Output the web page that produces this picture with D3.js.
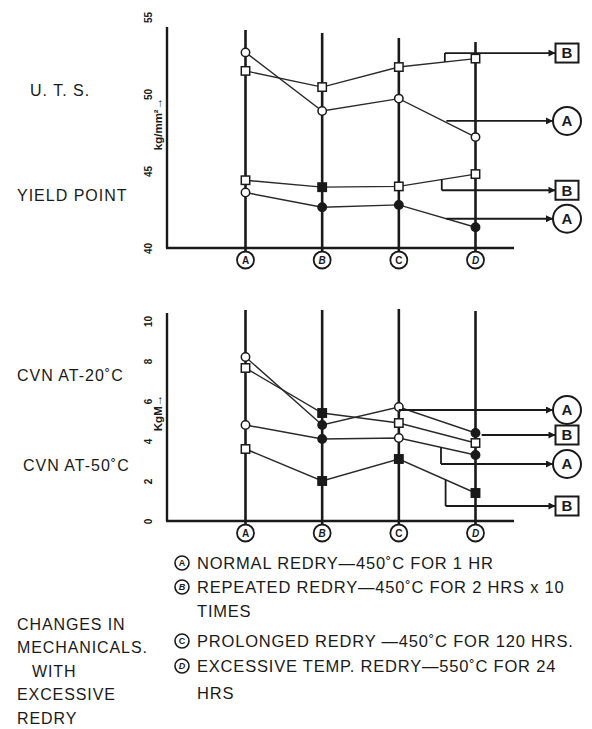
<!DOCTYPE html>
<html>
<head>
<meta charset="utf-8">
<script src="https://cdn.jsdelivr.net/npm/d3@7"></script>
<style>
  body { margin: 0; background: #fff; }
  svg text { font-family: "Liberation Sans", Arial, sans-serif; fill: #1a1a1a; }
</style>
</head>
<body>
<svg id="chart" width="592" height="729"></svg>
<script>
// categories along the x axis (A..D redry conditions)
const categories = ["A", "B", "C", "D"];

// top panel, kg/mm2
const utsA = [52.7, 48.9, 49.7, 47.2];
const utsB = [51.5, 50.45, 51.75, 52.3];
const yieldB = [44.4, 43.95, 44.0, 44.8];
const yieldA = [43.6, 42.65, 42.8, 41.35];
const topTicks = [40, 45, 50, 55];

// bottom panel, kgM
const cvn20A = [8.2, 4.8, 5.7, 4.4];
const cvn20B = [7.65, 5.4, 4.9, 3.9];
const cvn50A = [4.8, 4.1, 4.15, 3.3];
const cvn50B = [3.6, 2.0, 3.1, 1.4];
const bottomTicks = [0, 2, 4, 6, 8, 10];

const legendItems = [
  { key: "A", lines: ["NORMAL REDRY\u2014450\u02DAC FOR 1 HR"] },
  { key: "B", lines: ["REPEATED REDRY\u2014450\u02DAC FOR 2 HRS x 10", "TIMES"] },
  { key: "C", lines: ["PROLONGED REDRY \u2014450\u02DAC FOR 120 HRS."] },
  { key: "D", lines: ["EXCESSIVE TEMP. REDRY\u2014550\u02DAC FOR 24", "HRS"] }
];
const caption = ["CHANGES IN", "MECHANICALS.", "WITH", "EXCESSIVE", "REDRY"];

const svg = d3.select("#chart");
svg.append("rect").attr("width", 592).attr("height", 729).attr("fill", "#fff");

const ink = "#1a1a1a";

svg.append("defs").append("marker")
  .attr("id", "head")
  .attr("viewBox", "0 0 10 10")
  .attr("refX", 10).attr("refY", 5)
  .attr("markerWidth", 9).attr("markerHeight", 7)
  .attr("markerUnits", "userSpaceOnUse")
  .attr("orient", "auto")
  .append("path").attr("d", "M0,0L10,5L0,10Z").attr("fill", ink);

const x = d3.scalePoint().domain(categories).range([245.5, 475.5]);
// fractional category index -> px, used for the arrow brackets
const xi = d3.scaleLinear().domain([0, 3]).range([245.5, 475.5]);

function interp(values, at) {
  const i = Math.min(Math.floor(at), values.length - 2);
  const t = at - i;
  return values[i] + (values[i + 1] - values[i]) * t;
}

function panel(cfg) {
  const { y, axisTop, lineTops, series, ticks, unitLabel, unitY, labelY, arrows, solid } = cfg;
  const g = svg.append("g");
  const base = y.range()[0];

  // y axis line
  g.append("line")
    .attr("x1", 167).attr("x2", 167)
    .attr("y1", axisTop).attr("y2", base)
    .attr("stroke", ink).attr("stroke-width", 2.4);
  // x axis line
  g.append("line")
    .attr("x1", 166).attr("x2", 514)
    .attr("y1", base).attr("y2", base)
    .attr("stroke", ink).attr("stroke-width", 2.4);

  // rotated tick labels
  const axis = g.append("g")
    .attr("transform", "translate(148,0)")
    .call(d3.axisLeft(y).tickValues(ticks).tickSize(0).tickPadding(0));
  axis.select(".domain").remove();
  axis.selectAll("text")
    .attr("x", 0).attr("dy", "0.35em")
    .attr("text-anchor", "middle")
    .attr("transform", "rotate(-90)")
    .style("font-size", "10px").style("font-weight", "bold")
    .style("font-family", "'Liberation Sans', Arial, sans-serif")
    .attr("fill", ink);

  // unit label with arrow
  g.append("text")
    .attr("transform", `translate(158,${unitY}) rotate(-90)`)
    .attr("text-anchor", "middle").attr("dy", "0.35em")
    .style("font-size", "11.5px").style("font-weight", "bold")
    .text(unitLabel);

  // vertical lines at each condition
  g.selectAll(".cat")
    .data(categories)
    .enter().append("line")
    .attr("x1", (d) => x(d)).attr("x2", (d) => x(d))
    .attr("y1", (d, i) => lineTops[i]).attr("y2", base + 4)
    .attr("stroke", ink).attr("stroke-width", 2.6);

  // circled condition letters
  const lab = g.selectAll(".lab")
    .data(categories)
    .enter().append("g")
    .attr("transform", (d) => `translate(${x(d)},${labelY})`);
  lab.append("circle").attr("r", 8.5).attr("fill", "#fff").attr("stroke", ink).attr("stroke-width", 1.8);
  lab.append("text")
    .attr("text-anchor", "middle").attr("dy", "0.36em")
    .style("font-size", "10px").style("font-weight", "bold")
    .style("font-style", (d) => (d === "B" || d === "D" ? "italic" : "normal"))
    .text((d) => d);

  const line = d3.line().x((d, i) => x(categories[i])).y((d) => y(d));

  series.forEach((s) => {
    g.append("path")
      .datum(s.values)
      .attr("d", line)
      .attr("fill", "none")
      .attr("stroke", "#2a2a2a")
      .attr("stroke-width", 1.4);
  });

  series.forEach((s) => {
    const pts = g.selectAll(null)
      .data(s.values)
      .enter();
    const fill = (d, i) => ((solid[s.name] || []).includes(i) ? ink : "#fff");
    if (s.shape === "circle") {
      pts.append("circle")
        .attr("cx", (d, i) => x(categories[i]))
        .attr("cy", (d) => y(d))
        .attr("r", 4.2)
        .attr("fill", fill)
        .attr("stroke", ink).attr("stroke-width", 1.5);
    } else {
      pts.append("rect")
        .attr("x", (d, i) => x(categories[i]) - 4.2)
        .attr("y", (d) => y(d) - 4.2)
        .attr("width", 8.4).attr("height", 8.4)
        .attr("fill", fill)
        .attr("stroke", ink).attr("stroke-width", 1.5);
    }
  });

  // arrows out to the A / B tags
  arrows.forEach((a) => {
    const x0 = xi(a.at);
    const onLine = a.series ? interp(a.series, Math.min(a.at, 3)) : null;
    const level = a.level != null ? a.level : onLine;
    const yl = y(level);
    if (a.series && a.level != null) {
      g.append("line")
        .attr("x1", x0).attr("x2", x0)
        .attr("y1", y(onLine)).attr("y2", yl)
        .attr("stroke", ink).attr("stroke-width", 1.8);
    }
    const tagX = 567;
    const edge = a.shape === "circle" ? tagX - 14 : tagX - 11.5;
    g.append("line")
      .attr("x1", x0).attr("x2", edge)
      .attr("y1", yl).attr("y2", yl)
      .attr("stroke", ink).attr("stroke-width", 1.8)
      .attr("marker-end", "url(#head)");
    if (a.shape === "circle") {
      g.append("circle")
        .attr("cx", tagX).attr("cy", yl).attr("r", 14)
        .attr("fill", "#fff").attr("stroke", ink).attr("stroke-width", 2);
    } else {
      g.append("rect")
        .attr("x", tagX - 11.5).attr("y", yl - 9.5)
        .attr("width", 23).attr("height", 19)
        .attr("fill", "#fff").attr("stroke", ink).attr("stroke-width", 2);
    }
    g.append("text")
      .attr("x", tagX).attr("y", yl)
      .attr("text-anchor", "middle").attr("dy", "0.36em")
      .style("font-size", "15px").style("font-weight", "bold")
      .text(a.label);
  });
}

const yTop = d3.scaleLinear().domain([40, 55]).range([248, 17]);
panel({
  y: yTop,
  axisTop: 27,
  lineTops: [30, 33, 38, 42],
  ticks: topTicks,
  unitLabel: "kg/mm\u00B2\u2192",
  unitY: 124,
  labelY: 260,
  series: [
    { name: "utsA", values: utsA, shape: "circle" },
    { name: "utsB", values: utsB, shape: "square" },
    { name: "yieldB", values: yieldB, shape: "square" },
    { name: "yieldA", values: yieldA, shape: "circle" }
  ],
  solid: { yieldA: [1, 2, 3], yieldB: [1] },
  arrows: [
    { label: "B", shape: "box", at: 2.6, series: utsB, level: 52.66 },
    { label: "A", shape: "circle", at: 2.62, series: null, level: 48.25 },
    { label: "B", shape: "box", at: 2.56, series: yieldB, level: 43.75 },
    { label: "A", shape: "circle", at: 2.62, series: null, level: 41.9 }
  ]
});

const yBot = d3.scaleLinear().domain([0, 10]).range([521, 321]);
panel({
  y: yBot,
  axisTop: 313,
  lineTops: [310, 310, 309, 311],
  ticks: bottomTicks,
  unitLabel: "KgM\u2192",
  unitY: 413,
  labelY: 533,
  series: [
    { name: "cvn20A", values: cvn20A, shape: "circle" },
    { name: "cvn20B", values: cvn20B, shape: "square" },
    { name: "cvn50A", values: cvn50A, shape: "circle" },
    { name: "cvn50B", values: cvn50B, shape: "square" }
  ],
  solid: { cvn20A: [1, 3], cvn20B: [1], cvn50A: [1, 3], cvn50B: [1, 2, 3] },
  arrows: [
    { label: "A", shape: "circle", at: 2.0, series: null, level: 5.55 },
    { label: "B", shape: "box", at: 3.08, series: null, level: 4.3 },
    { label: "A", shape: "circle", at: 2.55, series: cvn50A, level: 2.85 },
    { label: "B", shape: "box", at: 2.61, series: cvn50B, level: 0.75 }
  ]
});

// side labels
const side = [
  { text: "U. T. S.", x: 30, y: 90 },
  { text: "YIELD POINT", x: 17, y: 195 },
  { text: "CVN AT-20\u02DAC", x: 17, y: 375 },
  { text: "CVN AT-50\u02DAC", x: 23, y: 465 }
];
svg.selectAll(".side")
  .data(side)
  .enter().append("text")
  .attr("x", (d) => d.x).attr("y", (d) => d.y)
  .attr("dy", "0.36em")
  .style("font-size", "16px").style("letter-spacing", "1px")
  .text((d) => d.text);

// caption block
svg.selectAll(".cap")
  .data(caption)
  .enter().append("text")
  .attr("x", (d) => (d === "WITH" ? 32 : 17))
  .attr("y", (d, i) => 624 + i * 23.5)
  .attr("dy", "0.36em")
  .style("font-size", "16px").style("letter-spacing", "0.9px")
  .text((d) => d);

// legend
const rowY = [563, 587, 641, 666];
const legend = svg.append("g");
legendItems.forEach((item, k) => {
  const yy = rowY[k];
  legend.append("circle")
    .attr("cx", 182).attr("cy", yy).attr("r", 7)
    .attr("fill", "#fff").attr("stroke", ink).attr("stroke-width", 1.6);
  legend.append("text")
    .attr("x", 182).attr("y", yy).attr("dy", "0.36em")
    .attr("text-anchor", "middle")
    .style("font-size", "9px").style("font-weight", "bold")
    .style("font-style", item.key === "B" || item.key === "D" ? "italic" : "normal")
    .text(item.key);
  item.lines.forEach((ln, j) => {
    legend.append("text")
      .attr("x", 197).attr("y", yy + j * (k === 3 ? 27 : 24)).attr("dy", "0.36em")
      .style("font-size", "16.5px").style("letter-spacing", "0.8px")
      .text(ln);
  });
});
</script>
</body>
</html>
